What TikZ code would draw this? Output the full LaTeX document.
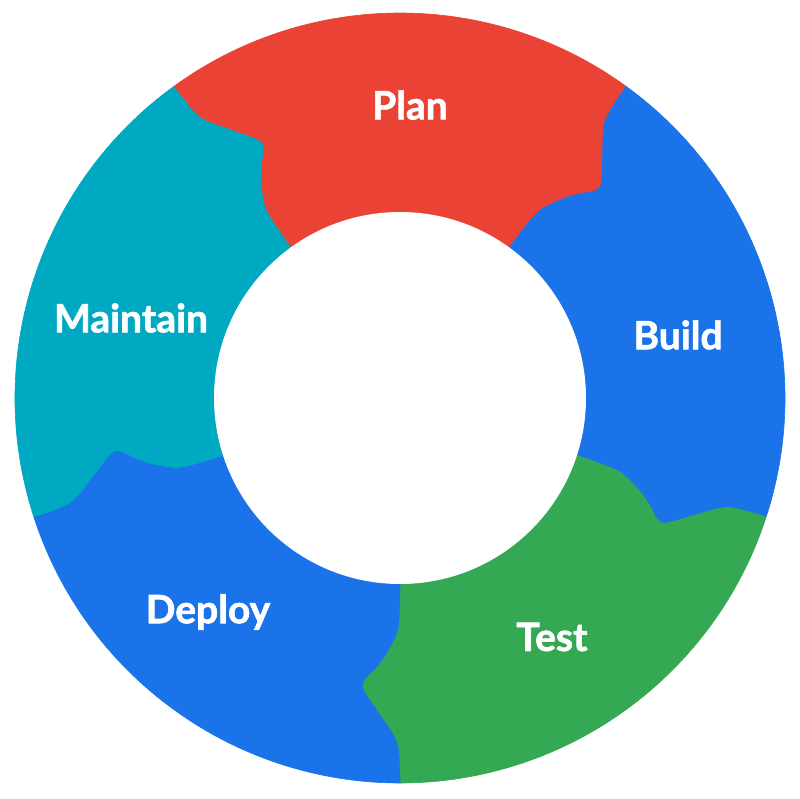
\documentclass[tikz,border=0pt]{standalone}
\usepackage{fontspec}
\setmainfont{Lato}[BoldFeatures={FakeBold=1.6}]
\definecolor{cplan}{HTML}{EA4335}
\definecolor{cblue}{HTML}{1A73E8}
\definecolor{ctest}{HTML}{34A853}
\definecolor{cmaint}{HTML}{00A9C2}
\newcommand{\prof}[1]{(#1:385) ({#1-0.5}:345) ({#1-4}:315) ({#1-7.5}:290) ({#1-5}:270) ({#1-3}:255) ({#1-0.5}:230) (#1:186)}
\newcommand{\profr}[1]{(#1:186) ({#1-0.5}:230) ({#1-3}:255) ({#1-5}:270) ({#1-7.5}:290) ({#1-4}:315) ({#1-0.5}:345) (#1:385)}
\newcommand{\segm}[3]{\fill[#1,draw=#1,line width=0.6pt] (0,0) -- plot[smooth] coordinates {\profr{#2}} arc[start angle=#2, end angle=#3, radius=385] -- plot[smooth] coordinates {\prof{#3}} -- cycle;}
\begin{document}
\begin{tikzpicture}[x=1pt,y=1pt,lab/.style={text=white,font=\fontsize{39}{44}\selectfont\bfseries}]
\useasboundingbox (-400,-400) rectangle (400,398);
\segm{cplan}{126}{54}
\segm{cblue}{54}{-18}
\segm{ctest}{-18}{-90}
\segm{cblue}{-90}{-162}
\segm{cmaint}{198}{126}
\fill[white] (0,0) circle (186);
\node[lab] (plan) at (10,293) {Plan};
\node[lab] (build) at (278,63) {Build};
\node[lab] (test) at (152,-239) {Test};
\node[lab] (deploy) at (-192,-214) {Deploy};
\node[lab] (maint) at (-269,80) {Maintain};
\end{tikzpicture}
\end{document}
